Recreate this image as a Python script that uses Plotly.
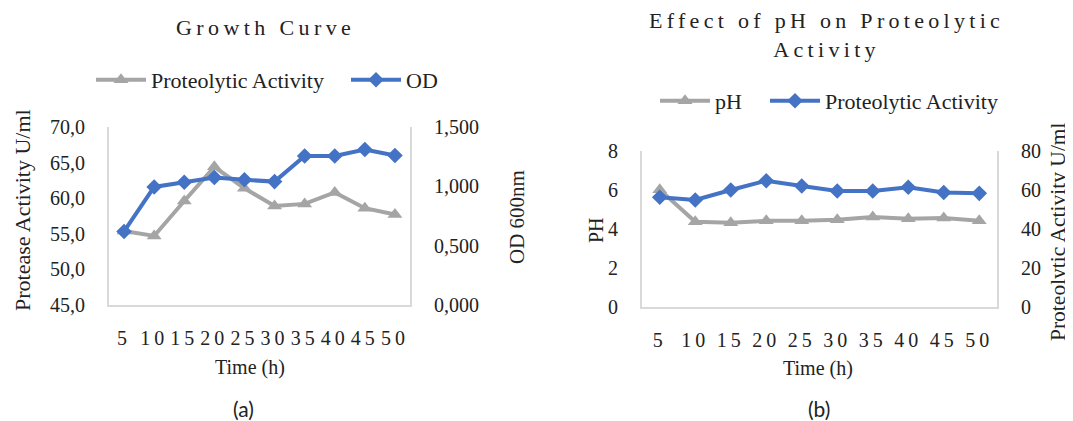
import plotly.graph_objects as go

# ---------------- data ----------------
time_h = ["5", "10", "15", "20", "25", "30", "35", "40", "45", "50"]

# (a) Growth curve
growth_protease = [55.4, 54.7, 59.6, 64.4, 61.4, 58.9, 59.2, 60.8, 58.6, 57.7]   # U/ml (left axis)
growth_od = [0.62, 0.995, 1.035, 1.075, 1.055, 1.04, 1.255, 1.255, 1.31, 1.26]   # OD 600nm (right axis)

# (b) Effect of pH
ph_values = [6.0, 4.35, 4.3, 4.4, 4.4, 4.45, 4.6, 4.5, 4.55, 4.4]                # pH (left axis)
ph_activity = [56.1, 54.7, 59.8, 64.6, 61.9, 59.3, 59.3, 61.2, 58.5, 58.1]       # U/ml (right axis)

title_a = "Growth Curve"
title_b_lines = ["Effect of pH on Proteolytic", "Activity"]

# ---------------- style ----------------
# The page body has an 8px margin, so the figure is offset by (8, 8) in the window.
OFF = 8
W, H = 1073 - OFF, 421 - OFF
SERIF = "Liberation Serif"
TXT = "#222222"
GRAY = "#a5a5a5"
BLUE = "#4472c4"
AXL = "#d9d9d9"


def px_x(x):
    return (x - OFF) / W


def px_y(y):
    return 1 - (y - OFF) / H


def spaced(s, sp):
    return f'<span style="letter-spacing:{sp}px">{s}</span>'


tick_text = [spaced(t, 4) for t in time_h]
leg_font = dict(family=SERIF, size=22, color=TXT)

fig = go.Figure()

# (a)
fig.add_trace(go.Scatter(x=time_h, y=growth_protease, name="Proteolytic Activity",
                         mode="lines+markers", line=dict(color=GRAY, width=4),
                         marker=dict(symbol="triangle-up", size=13, color=GRAY),
                         xaxis="x", yaxis="y", legend="legend", legendwidth=190))
fig.add_trace(go.Scatter(x=time_h, y=growth_od, name="OD",
                         mode="lines+markers", line=dict(color=BLUE, width=4),
                         marker=dict(symbol="diamond", size=12, color=BLUE),
                         xaxis="x", yaxis="y2", legend="legend"))
# (b)
fig.add_trace(go.Scatter(x=time_h, y=ph_values, name="pH",
                         mode="lines+markers", line=dict(color=GRAY, width=4),
                         marker=dict(symbol="triangle-up", size=13, color=GRAY),
                         xaxis="x2", yaxis="y3", legend="legend2", legendwidth=45))
fig.add_trace(go.Scatter(x=time_h, y=ph_activity, name="Proteolytic Activity",
                         mode="lines+markers", line=dict(color=BLUE, width=4),
                         marker=dict(symbol="diamond", size=12, color=BLUE),
                         xaxis="x2", yaxis="y4", legend="legend2"))

tickfont = dict(family=SERIF, size=20, color=TXT)
common_x = dict(type="category", range=[-0.5, 9.5], showline=True, linecolor=AXL,
                linewidth=2, showgrid=False, zeroline=False, ticks="",
                tickvals=time_h, ticktext=tick_text, tickfont=tickfont,
                ticklabelstandoff=14, fixedrange=True, automargin=False)
common_y = dict(showline=True, linecolor=AXL, linewidth=2, showgrid=False,
                zeroline=False, ticks="", tickfont=tickfont,
                ticklabelstandoff=18, fixedrange=True, automargin=False)

fig.update_layout(
    width=W, height=H,
    margin=dict(l=0, r=0, t=0, b=0, pad=0, autoexpand=False),
    paper_bgcolor="white", plot_bgcolor="white",
    separators=",.",
    font=dict(family=SERIF, color=TXT),
    xaxis=dict(domain=[px_x(109), px_x(410)], anchor="y", **common_x),
    yaxis=dict(domain=[px_y(305), px_y(127)], range=[45, 70], dtick=5,
               tickformat=".1f", anchor="x", **common_y),
    yaxis2=dict(overlaying="y", side="right", anchor="x", range=[0, 1.5],
                dtick=0.5, tickformat=".3f", **common_y),
    xaxis2=dict(domain=[px_x(642), px_x(997)], anchor="y3", **common_x),
    yaxis3=dict(domain=[px_y(306.5), px_y(150.7)], range=[0, 8], dtick=2,
                tickformat="d", anchor="x2", **common_y),
    yaxis4=dict(overlaying="y3", side="right", anchor="x2", range=[0, 80],
                dtick=20, tickformat="d", **common_y),
    legend=dict(orientation="h", x=px_x(267), y=px_y(80), xanchor="center",
                yanchor="middle", font=leg_font, itemwidth=50,
                bgcolor="rgba(0,0,0,0)"),
    legend2=dict(orientation="h", x=px_x(829), y=px_y(101), xanchor="center",
                 yanchor="middle", font=leg_font, itemwidth=50,
                 bgcolor="rgba(0,0,0,0)"),
    showlegend=True,
)

ann = []
# titles
ann.append(dict(text=spaced(title_a, 4.4), x=px_x(265), y=px_y(27),
                font=dict(family=SERIF, size=22, color=TXT)))
ann.append(dict(text="<br>".join(spaced(t, 4.3) for t in title_b_lines),
                x=px_x(826), y=px_y(35),
                font=dict(family=SERIF, size=22, color=TXT)))
# axis titles (a)
ann.append(dict(text="Protease Activity U/ml", x=px_x(22), y=px_y(210),
                textangle=-90, font=dict(family=SERIF, size=22, color=TXT)))
ann.append(dict(text="OD 600nm", x=px_x(517), y=px_y(217),
                textangle=-90, font=dict(family=SERIF, size=21, color=TXT)))
ann.append(dict(text="Time (h)", x=px_x(250), y=px_y(367),
                font=dict(family=SERIF, size=20, color=TXT)))
# axis titles (b)
ann.append(dict(text="PH", x=px_x(596), y=px_y(230),
                textangle=-90, font=dict(family=SERIF, size=20, color=TXT)))
ann.append(dict(text="Proteolytic Activity U/ml", x=px_x(1058), y=px_y(232),
                textangle=-90, font=dict(family=SERIF, size=21.5, color=TXT)))
ann.append(dict(text="Time (h)", x=px_x(818), y=px_y(368),
                font=dict(family=SERIF, size=20, color=TXT)))
# panel labels
ann.append(dict(text="(a)", x=px_x(243), y=px_y(408),
                font=dict(family="Lato", size=21, color=TXT)))
ann.append(dict(text="(b)", x=px_x(819), y=px_y(408),
                font=dict(family="Lato", size=21, color=TXT)))

for a in ann:
    a.update(xref="paper", yref="paper", showarrow=False, xanchor="center",
             yanchor="middle")
fig.update_layout(annotations=ann)

fig.write_html("out.html")
